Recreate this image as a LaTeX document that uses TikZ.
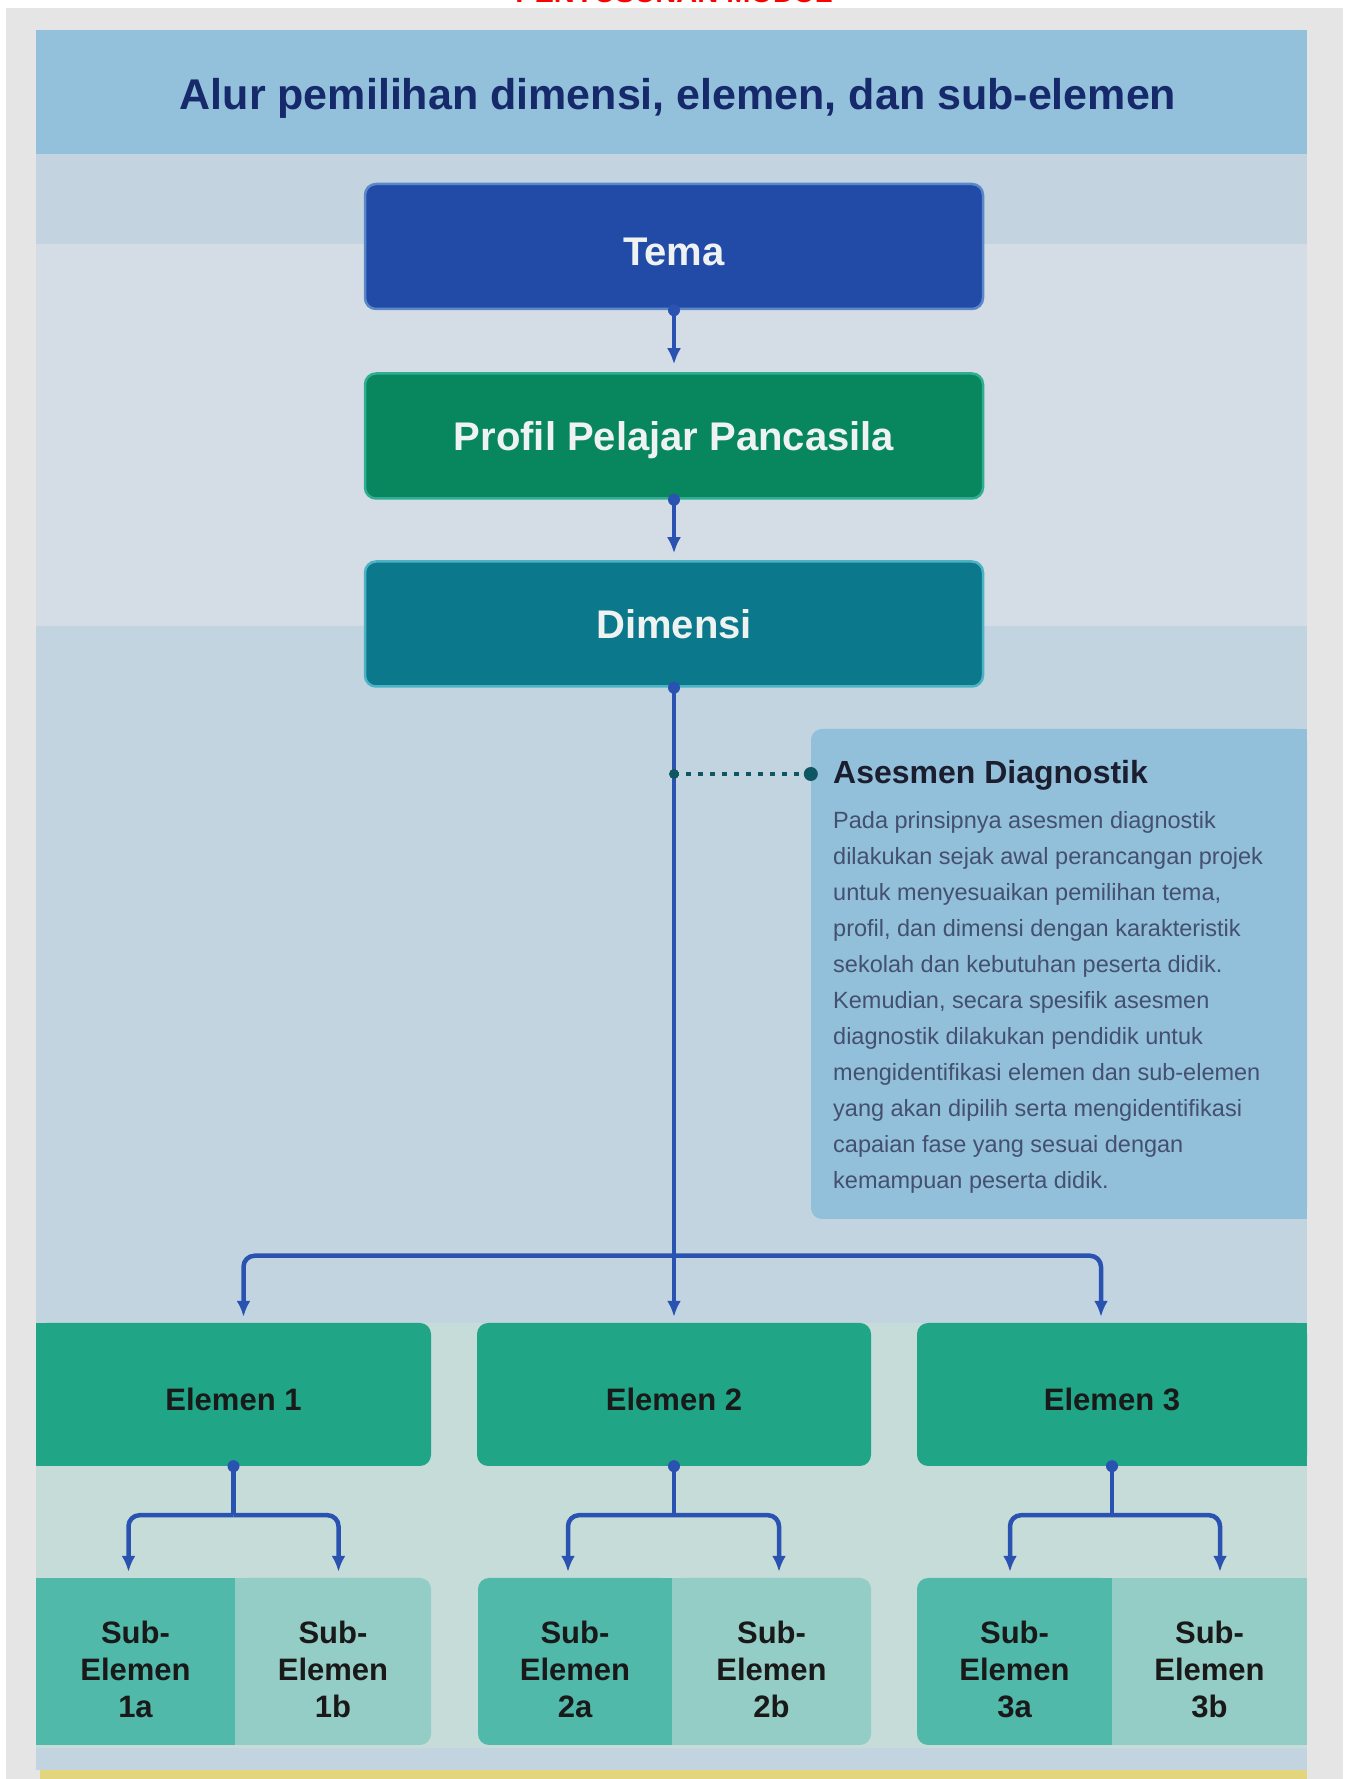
\documentclass[tikz,border=0pt]{standalone}
\usepackage{fontspec}
\setmainfont{Liberation Sans}
\usetikzlibrary{arrows.meta,calc}
\definecolor{framegray}{HTML}{E5E5E5}
\definecolor{titleband}{HTML}{93C0DA}
\definecolor{bandA}{HTML}{C3D4E0}
\definecolor{bandB}{HTML}{D4DDE5}
\definecolor{bandC}{HTML}{C2D4E0}
\definecolor{bandgreen}{HTML}{C6DCD9}
\definecolor{footyellow}{HTML}{E3D47E}
\definecolor{titlenavy}{HTML}{16296B}
\definecolor{temafill}{HTML}{224BA8}
\definecolor{temaedge}{HTML}{5A88C8}
\definecolor{profilfill}{HTML}{08875F}
\definecolor{profiledge}{HTML}{2FAE91}
\definecolor{dimfill}{HTML}{0B788B}
\definecolor{dimedge}{HTML}{4BB3C4}
\definecolor{boxtext}{HTML}{EEF3F2}
\definecolor{elemfill}{HTML}{20A587}
\definecolor{subA}{HTML}{50B9AA}
\definecolor{subB}{HTML}{94CDC5}
\definecolor{arrowblue}{HTML}{2A52B0}
\definecolor{dotteal}{HTML}{0D5662}
\definecolor{asfill}{HTML}{92BFDA}
\definecolor{astitletext}{HTML}{1B1E2E}
\definecolor{asbodytext}{HTML}{435070}
\begin{document}
\begin{tikzpicture}[>={Latex[length=16bp,width=14bp]},line join=bevel,
    flowbox/.style={rectangle,rounded corners=11bp,minimum width=618bp,minimum height=125bp,
        inner sep=0pt,text=boxtext,text depth=0pt,line width=2.5bp,
        font=\fontsize{40bp}{48bp}\selectfont\bfseries},
    elembox/.style={rectangle,rounded corners=11bp,fill=elemfill,minimum height=143bp,
        inner sep=0pt,text=black!90,text depth=0pt,text height=32.5bp,
        font=\fontsize{31bp}{37bp}\selectfont\bfseries},
    subbox/.style={rectangle,rounded corners=11bp,minimum height=167bp,inner sep=0pt},
    subtext/.style={inner sep=0pt,align=center,text=black!90,
        font=\fontsize{31bp}{37bp}\selectfont\bfseries},
    stem/.style={draw=arrowblue,line width=4.5bp},
    conn/.style={stem,->,rounded corners=11bp},
]
    \useasboundingbox (0bp,0bp) rectangle (1347bp,1779bp);
    %% background bands
    \fill[framegray] (6bp,0bp) rectangle (1343bp,1771bp);
    \fill[titleband] (36bp,1625bp) rectangle (1307bp,1749bp);
    \fill[bandA] (36bp,1535bp) rectangle (1307bp,1625bp);
    \fill[bandB] (36bp,1153bp) rectangle (1307bp,1535bp);
    \fill[bandC] (36bp,456bp) rectangle (1307bp,1153bp);
    \fill[bandgreen] (36bp,31bp) rectangle (1307bp,456bp);
    \fill[bandC] (36bp,9bp) rectangle (1307bp,31bp);
    \fill[footyellow] (40bp,0bp) rectangle (1307bp,9bp);
    %% header texts
    \node[anchor=base,text=red,font=\fontsize{29bp}{34bp}\selectfont\bfseries] (header) at (674bp,1776bp) {PENYUSUNAN MODUL};
    \node[anchor=base,text=titlenavy,font=\fontsize{43bp}{50bp}\selectfont\bfseries] (title) at (678bp,1669bp) {Alur pemilihan dimensi, elemen, dan sub-elemen};
    %% main chain
    \node[flowbox,fill=temafill,draw=temaedge,text height=39bp] (tema) at (674bp,1532.5bp) {Tema};
    \node[flowbox,fill=profilfill,draw=profiledge] (profil) at (674bp,1343bp) {Profil Pelajar Pancasila};
    \node[flowbox,fill=dimfill,draw=dimedge] (dimensi) at (674bp,1155bp) {Dimensi};
    %% asesmen diagnostik box
    \node[rectangle,rounded corners=11bp,fill=asfill,minimum width=496bp,minimum height=490bp,inner sep=0pt] (asesmen) at (1059bp,805bp) {};
    \fill[asfill] (1280bp,560bp) rectangle (1307bp,1050bp);
    \node[anchor=base west,inner sep=0pt,text=astitletext,font=\fontsize{32bp}{38bp}\selectfont\bfseries] (astitle) at (833bp,995bp) {Asesmen Diagnostik};
    \node[anchor=north west,inner sep=0pt,align=left,text=asbodytext,font=\fontsize{23.5bp}{36bp}\selectfont] (asbody) at (833bp,968bp) {Pada prinsipnya asesmen diagnostik\\
        dilakukan sejak awal perancangan projek\\
        untuk menyesuaikan pemilihan tema,\\
        profil, dan dimensi dengan karakteristik\\
        sekolah dan kebutuhan peserta didik.\\
        Kemudian, secara spesifik asesmen\\
        diagnostik dilakukan pendidik untuk\\
        mengidentifikasi elemen dan sub-elemen\\
        yang akan dipilih serta mengidentifikasi\\
        capaian fase yang sesuai dengan\\
        kemampuan peserta didik.};
    %% elemen boxes
    \fill[elemfill] (36bp,313bp) rectangle (60bp,456bp);
    \fill[elemfill] (1283bp,313bp) rectangle (1307bp,456bp);
    \node[elembox,minimum width=395bp] (elem1) at (233.5bp,384.5bp) {Elemen 1};
    \node[elembox,minimum width=394bp] (elem2) at (674bp,384.5bp) {Elemen 2};
    \node[elembox,minimum width=390bp] (elem3) at (1112bp,384.5bp) {Elemen 3};
    %% sub-elemen boxes
    \fill[subB] (235bp,34bp) rectangle (260bp,201bp);
    \fill[subA] (647bp,34bp) rectangle (672bp,201bp);
    \fill[subB] (672bp,34bp) rectangle (697bp,201bp);
    \fill[subA] (1087bp,34bp) rectangle (1112bp,201bp);
    \node[subbox,sharp corners,fill=subA,minimum width=199bp] (sub1a) at (135.5bp,117.5bp) {};
    \node[subbox,fill=subB,minimum width=196bp] (sub1b) at (333bp,117.5bp) {};
    \node[subbox,fill=subA,minimum width=194bp] (sub2a) at (575bp,117.5bp) {};
    \node[subbox,fill=subB,minimum width=199bp] (sub2b) at (771.5bp,117.5bp) {};
    \node[subbox,fill=subA,minimum width=195bp] (sub3a) at (1014.5bp,117.5bp) {};
    \node[subbox,sharp corners,fill=subB,minimum width=195bp] (sub3b) at (1209.5bp,117.5bp) {};
    \foreach \s/\t in {sub1a/1a,sub1b/1b,sub2a/2a,sub2b/2b,sub3a/3a,sub3b/3b}
        \node[subtext] (\s txt) at ($(\s)+(0,-8bp)$) {Sub-\\Elemen\\\t};
    %% connectors
    \draw[conn,shorten >=8bp] (tema) -- (profil);
    \draw[conn,shorten >=7bp] (profil) -- (dimensi);
    \draw[conn,shorten >=6bp] (dimensi) -- (elem2);
    \coordinate (split) at ($(dimensi.south)+(0,-568bp)$);
    \draw[conn] (split) -| ($(elem1.north)+(10bp,6bp)$);
    \draw[conn] (split) -| ($(elem3.north)+(-11bp,6bp)$);
    \draw[stem] (elem1.south) -- ++(0,-49bp) coordinate (fork1);
    \draw[conn] (fork1) -| ($(elem1.south |- sub1a.north)+(-105bp,6bp)$);
    \draw[conn] (fork1) -| ($(elem1.south |- sub1b.north)+(105bp,6bp)$);
    \draw[stem] (elem2.south) -- ++(0,-49bp) coordinate (fork2);
    \draw[conn] (fork2) -| ($(elem2.south |- sub2a.north)+(-106bp,6bp)$);
    \draw[conn] (fork2) -| ($(elem2.south |- sub2b.north)+(105bp,6bp)$);
    \draw[stem] (elem3.south) -- ++(0,-49bp) coordinate (fork3);
    \draw[conn] (fork3) -| ($(elem3.south |- sub3a.north)+(-102bp,6bp)$);
    \draw[conn] (fork3) -| ($(elem3.south |- sub3b.north)+(108bp,6bp)$);
    \foreach \src in {tema,profil,dimensi,elem1,elem2,elem3}
        \fill[arrowblue] (\src.south) circle (6bp);
    %% dotted link to asesmen
    \coordinate (diagpt) at (674bp,1005bp);
    \draw[dotteal,line width=4bp,dash pattern=on 5bp off 7bp] (diagpt) -- (diagpt -| asesmen.west);
    \fill[dotteal] (diagpt) circle (5bp);
    \fill[dotteal] (diagpt -| asesmen.west) circle (7bp);
    %
\end{tikzpicture}
\end{document}
